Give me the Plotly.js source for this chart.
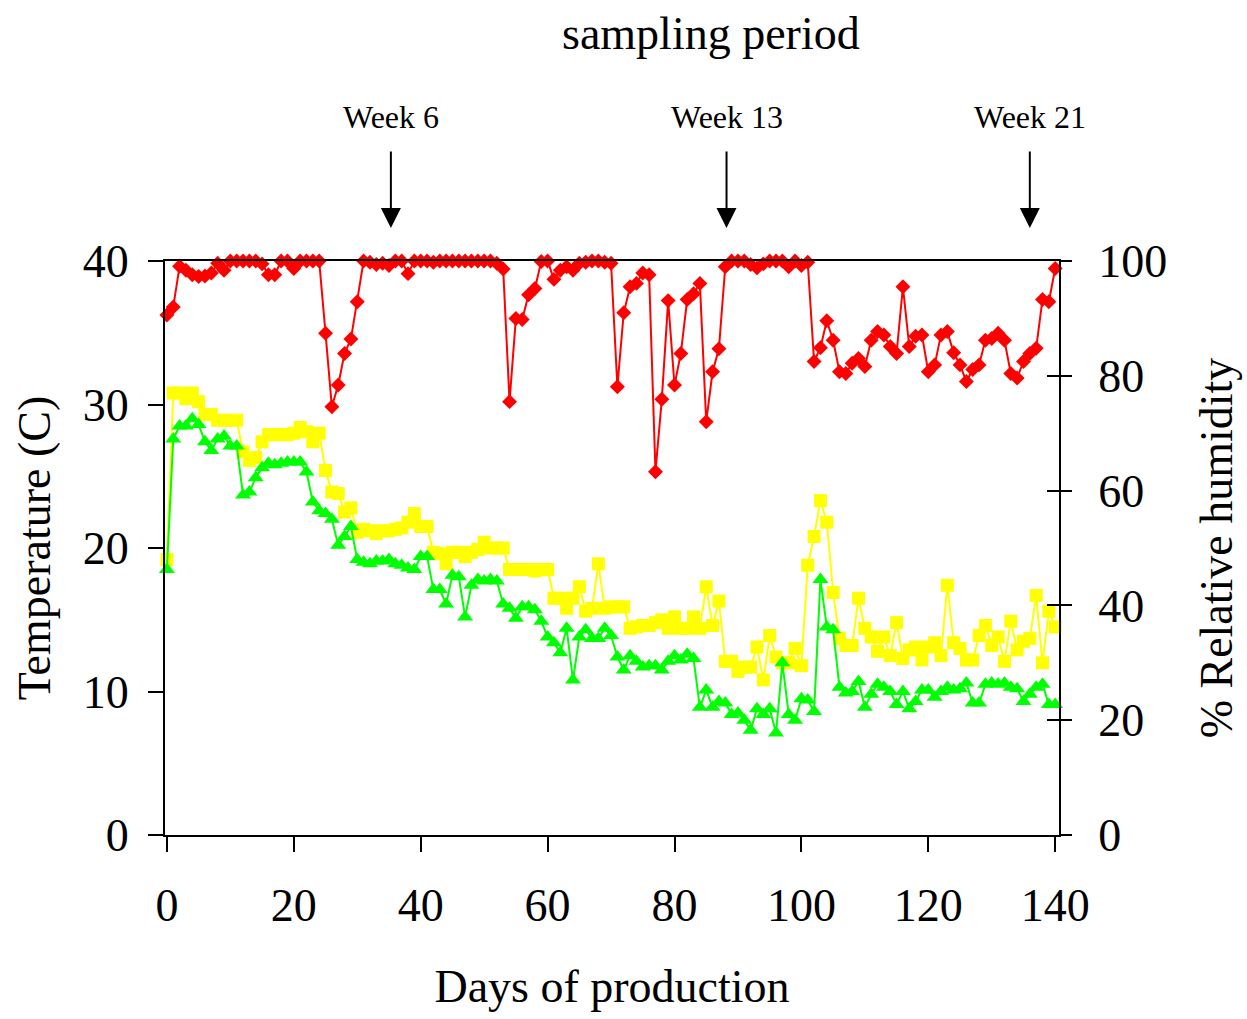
<!DOCTYPE html>
<html>
<head>
<meta charset="utf-8">
<script src="https://cdn.plot.ly/plotly-3.0.1.min.js"></script>
<style>html,body{margin:0;padding:0;background:#fff;}#chart{width:1247px;height:1019px;}</style>
</head>
<body>
<div id="chart"></div>
<script>
// Days of production
const days = [0,1,2,3,4,5,6,7,8,9,10,11,12,13,14,15,16,17,18,19,20,21,22,23,24,25,26,27,28,29,
30,31,32,33,34,35,36,37,38,39,40,41,42,43,44,45,46,47,48,49,50,51,52,53,54,55,56,57,58,59,
60,61,62,63,64,65,66,67,68,69,70,71,72,73,74,75,76,77,78,79,80,81,82,83,84,85,86,87,88,89,
90,91,92,93,94,95,96,97,98,99,100,101,102,103,104,105,106,107,108,109,110,111,112,113,114,
115,116,117,118,119,120,121,122,123,124,125,126,127,128,129,130,131,132,133,134,135,136,137,
138,139,140];

// % Relative humidity (right axis)
const relHumidity = [90.6,92.0,99.1,98.4,97.6,97.3,97.4,97.9,99.6,98.4,
100,100,100,100,100,99.5,97.6,97.6,100,100,
98.7,100,100,100,100,87.4,74.6,78.4,83.9,86.4,
92.9,100,99.8,99.4,99.6,99.2,100,100,97.8,100,
100,100,99.8,100,100,100,100,100,100,100,
100,100,99.6,98.6,75.5,90.0,89.8,94.1,95.2,99.9,
100,96.8,98.4,99.0,98.4,99.6,99.8,100,100,99.8,
99.6,78.1,91.0,95.5,96.1,97.9,97.6,63.3,75.9,93.1,
78.4,83.9,93.3,94.3,96.1,72.0,80.7,84.7,99.0,100,
100,100,99.4,98.8,99.5,100,100,100,99.0,100,
99.2,99.8,82.5,84.9,89.6,86.2,80.7,80.4,82.2,83.0,
81.6,86.2,87.7,87.1,85.1,83.9,95.5,85.1,86.9,87.1,
80.7,81.9,87.1,87.7,84.0,81.9,79.0,81.1,81.9,86.2,
86.5,87.4,86.2,80.4,79.6,82.5,83.9,84.8,93.3,92.9,
98.7];

// Temperature, upper series (yellow squares)
const tempHigh = [19.2,30.8,30.8,30.4,30.8,30.2,29.3,29.3,28.9,28.9,
28.9,28.9,26.7,26.1,26.3,27.4,27.9,27.9,27.9,27.9,
28.0,28.4,28.1,27.4,28.0,25.4,23.9,23.8,22.5,22.8,
21.1,21.3,21.2,21.0,21.2,21.2,21.3,21.4,21.8,22.4,
21.5,21.5,19.7,19.6,18.9,19.7,19.7,19.4,19.7,19.9,
20.4,20.0,20.0,20.0,18.5,18.5,18.5,18.5,18.4,18.5,
18.5,16.5,16.5,15.8,16.5,17.3,15.6,15.8,18.9,15.8,
15.9,15.9,15.9,14.4,14.5,14.6,14.6,14.8,15.0,14.4,
15.2,14.4,14.4,15.2,14.4,17.3,14.6,16.3,12.1,12.1,
11.4,11.7,11.7,13.1,10.8,13.9,12.4,12.0,12.0,13.0,
11.8,18.8,20.8,23.3,21.8,16.9,13.7,13.2,13.2,16.5,
14.4,13.8,12.8,13.8,12.5,14.8,12.3,12.9,13.1,12.2,
13.1,13.4,12.5,17.4,13.4,13.0,12.2,12.2,13.9,14.6,
13.2,13.8,12.1,14.9,12.9,13.5,13.7,16.7,12.0,15.6,
14.5];

// Temperature, lower series (green triangles)
const tempLow = [18.5,27.6,28.5,28.5,29.0,28.6,27.4,26.8,27.6,27.8,
27.1,27.1,23.7,23.9,24.9,25.6,25.9,25.8,25.9,26.0,
26.0,26.0,25.3,23.2,22.6,22.4,22.0,20.2,20.8,21.5,
19.2,19.0,18.9,19.1,19.1,19.2,18.9,18.8,18.6,18.5,
19.4,19.4,17.1,17.1,16.1,18.1,18.0,15.2,17.4,17.8,
17.7,17.8,17.7,16.1,15.8,15.1,15.9,15.9,15.7,14.9,
13.8,13.4,12.7,14.4,10.8,13.8,14.3,13.7,13.7,14.4,
13.9,12.4,11.5,12.5,12.1,11.7,11.8,11.8,11.5,12.1,
12.5,12.2,12.6,12.3,8.9,10.1,8.9,9.3,9.2,8.4,
8.5,8.0,7.3,8.8,8.4,8.8,7.1,12.0,8.4,8.0,
9.5,9.4,8.6,17.8,14.5,14.3,10.3,9.9,10.0,10.7,
8.9,9.8,10.5,10.3,10.0,9.1,10.0,8.8,9.3,10.1,
10.1,9.6,10.0,10.3,10.1,10.2,10.6,9.2,9.2,10.5,
10.6,10.5,10.6,10.3,10.2,9.3,9.8,10.3,10.5,9.1,
9.1];

// Sampling period markers
const weekLabels = ["Week 6", "Week 13", "Week 21"];
const weekDays = [35.3, 88.2, 136];

const FONT = "Liberation Serif, 'Times New Roman', Times, serif";

const traces = [
  {x: days, y: tempHigh, type: 'scatter', mode: 'lines+markers', name: 'Temperature (high)',
   line: {color: '#FFFF00', width: 2}, marker: {symbol: 'square', size: 13, color: '#FFFF00'},
   cliponaxis: false, yaxis: 'y'},
  {x: days, y: tempLow, type: 'scatter', mode: 'lines+markers', name: 'Temperature (low)',
   line: {color: '#00FF00', width: 2}, marker: {symbol: 'triangle-up', size: 14, color: '#00FF00'},
   cliponaxis: false, yaxis: 'y'},
  {x: days, y: relHumidity, type: 'scatter', mode: 'lines+markers', name: '% Relative humidity',
   line: {color: '#FF0000', width: 2}, marker: {symbol: 'diamond', size: 11.5, color: '#FF0000'},
   cliponaxis: false, yaxis: 'y2'},
  // invisible trace that activates the inner-tick copy of the right axis
  {x: [days[0]], y: [relHumidity[0]], type: 'scatter', mode: 'markers', yaxis: 'y3',
   marker: {opacity: 0}, hoverinfo: 'skip', showlegend: false}
];

const annotations = weekLabels.map((t, i) => ({
  x: weekDays[i], xref: 'x', y: 1.0575, yref: 'paper',
  text: t, showarrow: true, ax: 0, ay: -111, axref: 'pixel', ayref: 'pixel',
  arrowhead: 2, arrowsize: 2, arrowwidth: 2, arrowcolor: '#000',
  startstandoff: 15,
  font: {family: FONT, size: 32, color: '#000'}
}));
annotations.push({
  x: 0.611, xref: 'paper', y: 1.397, yref: 'paper', xanchor: 'center', yanchor: 'middle',
  text: 'sampling period', showarrow: false,
  font: {family: FONT, size: 46, color: '#000'}
});

const layout = {
  width: 1247, height: 1019,
  margin: {l: 165, r: 188, t: 261, b: 184, pad: 0},
  paper_bgcolor: '#fff', plot_bgcolor: '#fff',
  showlegend: false,
  font: {family: FONT, size: 46, color: '#000'},
  xaxis: {
    range: [-0.3, 140.6], tickvals: [0,20,40,60,80,100,120,140],
    ticks: 'outside', ticklen: 15, tickwidth: 2, tickcolor: '#000',
    showline: true, linecolor: '#000', linewidth: 2, mirror: true,
    showgrid: false, zeroline: false, ticklabelstandoff: 14,
    tickfont: {family: FONT, size: 46},
    title: {text: 'Days of production', font: {family: FONT, size: 46}, standoff: 40}
  },
  yaxis: {
    range: [0, 40], tickvals: [0,10,20,30,40],
    ticks: 'outside', ticklen: 15, tickwidth: 2, tickcolor: '#000',
    showline: true, linecolor: '#000', linewidth: 2,
    showgrid: false, zeroline: false, ticklabelstandoff: 10,
    tickfont: {family: FONT, size: 46},
    title: {text: 'Temperature (C)', font: {family: FONT, size: 46}, standoff: 18}
  },
  yaxis2: {
    range: [0, 100], tickvals: [0,20,40,60,80,100], overlaying: 'y', side: 'right',
    ticks: 'outside', ticklen: 11, tickwidth: 2, tickcolor: '#000',
    showline: true, linecolor: '#000', linewidth: 2,
    showgrid: false, zeroline: false, ticklabelstandoff: 17,
    tickfont: {family: FONT, size: 46},
    title: {text: '% Relative humidity', font: {family: FONT, size: 46}, standoff: 34}
  },
  yaxis3: {
    range: [0, 100], tickvals: [0,20,40,60,80,100], overlaying: 'y', side: 'right',
    ticks: 'inside', ticklen: 12, tickwidth: 2, tickcolor: '#000',
    showline: false, showticklabels: false, showgrid: false, zeroline: false
  },
  annotations: annotations
};

Plotly.newPlot('chart', traces, layout, {displayModeBar: false, staticPlot: true});
</script>
</body>
</html>
